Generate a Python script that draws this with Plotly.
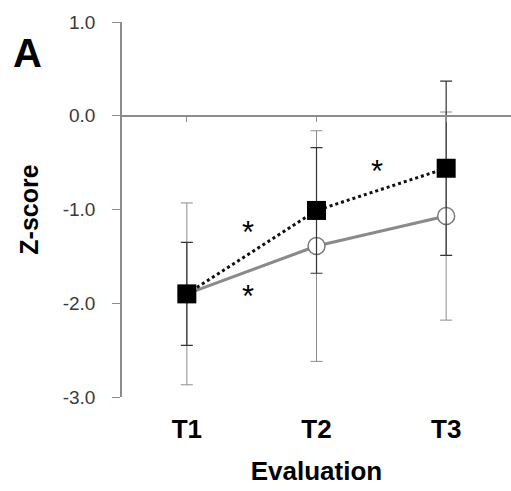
import plotly.graph_objects as go

# ---- data ----
categories = ["T1", "T2", "T3"]
square_mean = [-1.90, -1.01, -0.56]
square_err = [0.55, 0.67, 0.93]
circle_mean = [-1.90, -1.39, -1.07]
circle_err = [0.97, 1.23, 1.11]
y_ticks = [-3.0, -2.0, -1.0, 0.0, 1.0]
# significance markers: (x position in category units, y value)
star_x = [0.47, 0.47, 1.47]
star_y = [-1.21, -1.90, -0.565]

xi = list(range(len(categories)))
FONT = "Liberation Sans, Arial, sans-serif"

fig = go.Figure()

# invisible trace so the zero-crossing category axis (x2) is rendered
fig.add_trace(go.Scatter(
    x=xi, y=square_mean, mode="markers", marker=dict(opacity=0),
    hoverinfo="skip", showlegend=False, xaxis="x2", yaxis="y"))

fig.add_trace(go.Scatter(
    x=xi, y=circle_mean, mode="lines+markers",
    line=dict(color="#8a8a8a", width=3),
    marker=dict(symbol="circle", size=17, color="white",
                line=dict(color="#7a7a7a", width=1.5)),
    error_y=dict(type="data", array=circle_err, visible=True,
                 color="#8c8c8c", thickness=1, width=6),
    showlegend=False, xaxis="x", yaxis="y"))

fig.add_trace(go.Scatter(
    x=xi, y=square_mean, mode="lines+markers",
    line=dict(color="#111111", width=3, dash="dot"),
    marker=dict(symbol="square", size=19, color="black",
                line=dict(color="black", width=0)),
    error_y=dict(type="data", array=square_err, visible=True,
                 color="#333333", thickness=1.2, width=6),
    showlegend=False, xaxis="x", yaxis="y"))

for sx, sy in zip(star_x, star_y):
    fig.add_annotation(x=sx, y=sy, xref="x", yref="y", text="*",
                       showarrow=False, yshift=-3,
                       font=dict(family=FONT, size=31, color="black"))

fig.add_annotation(x=-0.244, y=0.917, xref="paper", yref="paper",
                   text="<b>A</b>", showarrow=False,
                   xanchor="center", yanchor="middle",
                   font=dict(family=FONT, size=40, color="black"))

fig.update_layout(
    width=511, height=491,
    margin=dict(l=122, r=0, t=22, b=94),
    paper_bgcolor="white", plot_bgcolor="white",
    xaxis=dict(range=[-0.5, 2.5], tickvals=xi,
               ticktext=["<b>%s</b>" % c for c in categories],
               showline=False, showgrid=False, zeroline=False, ticks="",
               tickfont=dict(family=FONT, size=26, color="black"),
               ticklabelstandoff=14,
               title=dict(text="<b>Evaluation</b>", standoff=18,
                          font=dict(family=FONT, size=26, color="black"))),
    xaxis2=dict(overlaying="x", range=[-0.5, 2.5], anchor="free", position=0.75,
                tickvals=xi, showticklabels=False, showline=True,
                linecolor="#8c8c8c", linewidth=1.5, ticks="outside",
                ticklen=5, tickcolor="#8c8c8c", tickwidth=1,
                showgrid=False, zeroline=False),
    yaxis=dict(range=[-3, 1], tickvals=y_ticks,
               ticktext=["%.1f" % v for v in y_ticks],
               showline=True, linecolor="#8c8c8c", linewidth=1.5,
               ticks="outside", ticklen=8, tickcolor="#8c8c8c", tickwidth=1,
               showgrid=False, zeroline=False,
               tickfont=dict(family=FONT, size=19, color="#3a3a3a"),
               ticklabelstandoff=13,
               title=dict(text="<b>Z-score</b>", standoff=17,
                          font=dict(family=FONT, size=25, color="black"))),
)

fig.write_html("out.html")
